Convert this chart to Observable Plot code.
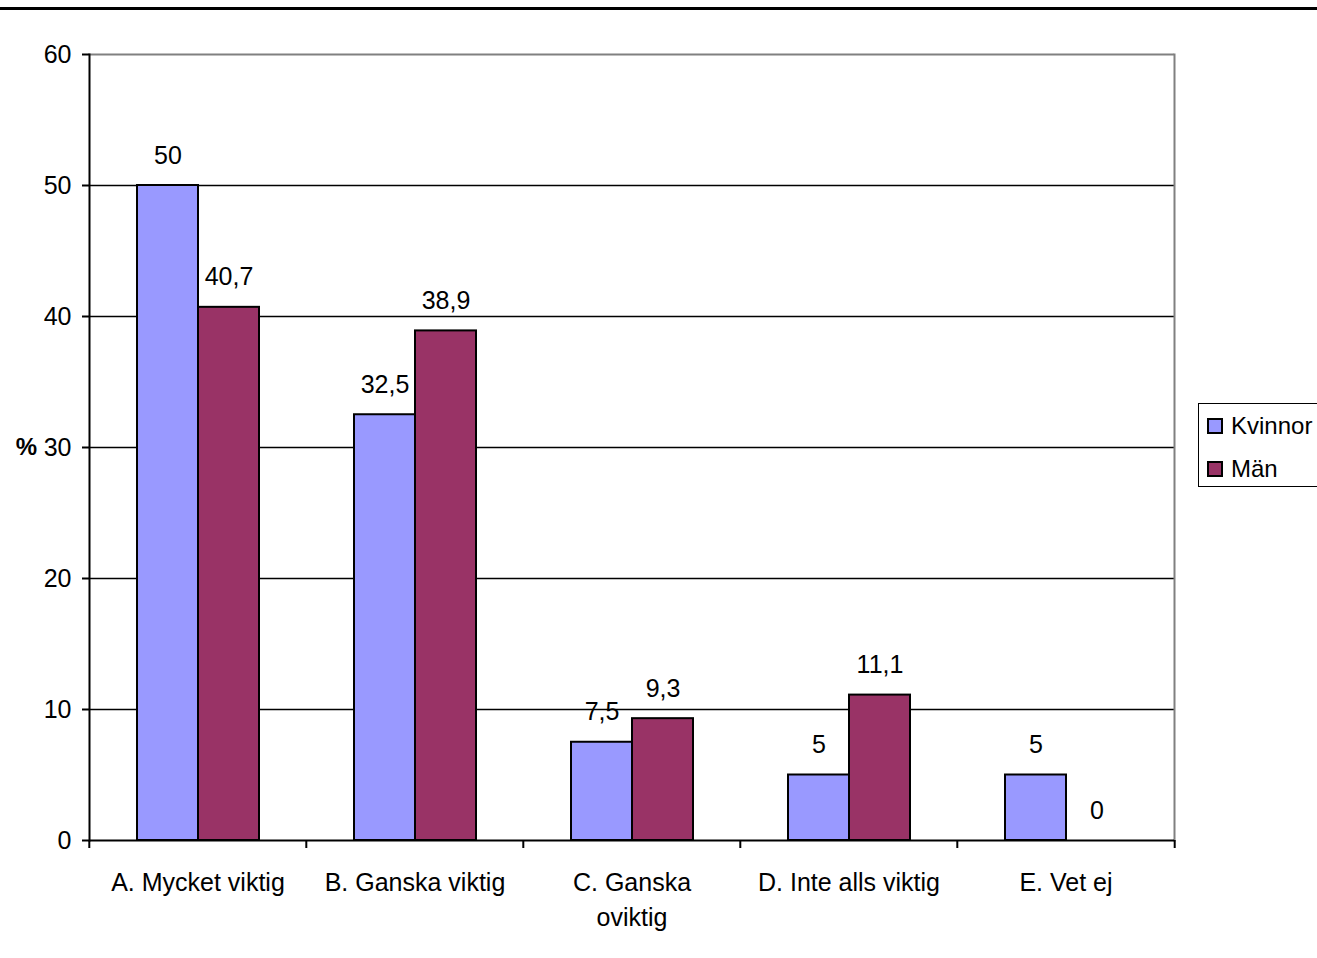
<!DOCTYPE html>
<html>
<head>
<meta charset="utf-8">
<script src="https://cdn.jsdelivr.net/npm/d3@7"></script>
<script src="https://cdn.jsdelivr.net/npm/@observablehq/plot@0.6"></script>
<style>
  body { margin: 0; background: #fff; font-family: "Liberation Sans", Arial, sans-serif; color: #000; }
  #wrap { position: relative; width: 1317px; height: 958px; overflow: hidden; }
  #topline { position: absolute; left: 0; top: 7px; width: 1317px; height: 3px; background: #000; }
  #chart { position: absolute; left: 0; top: 0; }
  #legend { position: absolute; left: 1198px; top: 403px; width: 140px; height: 84px; border: 1.5px solid #000; box-sizing: border-box; background: #fff; }
  .item { position: absolute; left: 8px; height: 28px; display: flex; align-items: center; font-size: 24px; }
  .sw { width: 12px; height: 12px; border: 2px solid #000; margin-right: 8px; }
</style>
</head>
<body>
<div id="wrap">
  <div id="topline"></div>
  <div id="chart"></div>
  <div id="legend"></div>
</div>
<script>
const categories = ["A. Mycket viktig", "B. Ganska viktig", "C. Ganska oviktig", "D. Inte alls viktig", "E. Vet ej"];
const series = ["Kvinnor", "Män"];
const kvinnor = [50, 32.5, 7.5, 5, 5];
const man = [40.7, 38.9, 9.3, 11.1, 0];
const yTicks = [0, 10, 20, 30, 40, 50, 60];
const gridValues = [10, 20, 30, 40, 50];
const colors = ["#9999FF", "#993366"];

const rows = categories.flatMap((c, i) => [
  {cat: c, s: series[0], v: kvinnor[i]},
  {cat: c, s: series[1], v: man[i]}
]);

const fmt = v => String(v).replace(".", ",");
const wrapLabel = d => d.replace(" oviktig", "\noviktig");
const halfStep = (1175 - 88) / categories.length / 2;
const first = categories[0];
const last = categories[categories.length - 1];

const plot = Plot.plot({
  width: 1317,
  height: 958,
  marginLeft: 88,
  marginRight: 142,
  marginTop: 54,
  marginBottom: 118,
  style: {fontFamily: "'Liberation Sans', Arial, sans-serif", color: "#000", background: "transparent"},
  fx: {domain: categories, padding: 0, label: null},
  x: {domain: series, paddingInner: 0, paddingOuter: 0.753, axis: null},
  y: {domain: [0, 60], label: null},
  color: {domain: series, range: colors},
  marks: [
    Plot.ruleY(gridValues, {stroke: "#000", strokeWidth: 1.6}),
    Plot.ruleY([60], {stroke: "#808080", strokeWidth: 2}),
    Plot.frame({anchor: "right", fx: () => last, stroke: "#808080", strokeWidth: 2}),
    Plot.barY(rows, {fx: "cat", x: "s", y: "v", fill: "s", stroke: "#000", strokeWidth: 2}),
    Plot.ruleY([0], {stroke: "#000", strokeWidth: 2}),
    Plot.frame({anchor: "left", fx: () => first, stroke: "#000", strokeWidth: 2}),
    Plot.axisY({anchor: "left", ticks: yTicks, tickSize: 7, tickPadding: 11, stroke: "#000", strokeWidth: 2, fontSize: 25, label: null}),
    Plot.axisFx({anchor: "bottom", tickSize: 8, text: null, dx: -halfStep, stroke: "#000", strokeWidth: 2, label: null}),
    Plot.axisFx({anchor: "bottom", ticks: [last], tickSize: 8, text: null, dx: halfStep, stroke: "#000", strokeWidth: 2, label: null}),
    Plot.axisFx({anchor: "bottom", tickSize: 0, tickPadding: 26, fontSize: 25, lineHeight: 1.4, tickFormat: wrapLabel, label: null}),
    Plot.text(rows, {fx: "cat", x: "s", y: "v", text: d => fmt(d.v), dy: -30, fontSize: 25, fill: "#000"}),
    Plot.text([30], {fx: () => first, y: d => d, text: () => "%", frameAnchor: "left", textAnchor: "middle", dx: -63, fontSize: 24, fontWeight: "bold", fill: "#000"})
  ]
});
document.getElementById("chart").appendChild(plot);

const legend = document.getElementById("legend");
series.forEach((s, i) => {
  const item = document.createElement("div");
  item.className = "item";
  item.style.top = (8 + i * 43) + "px";
  const sw = document.createElement("div");
  sw.className = "sw";
  sw.style.background = colors[i];
  const label = document.createElement("span");
  label.textContent = s;
  item.appendChild(sw);
  item.appendChild(label);
  legend.appendChild(item);
});
</script>
</body>
</html>
